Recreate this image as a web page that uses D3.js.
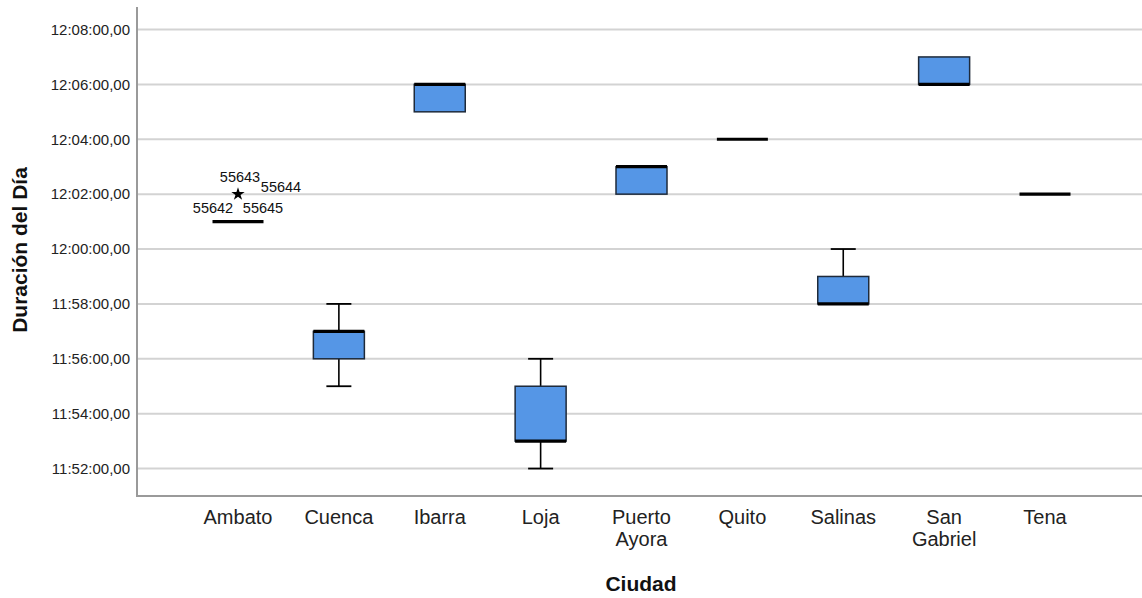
<!DOCTYPE html>
<html>
<head>
<meta charset="utf-8">
<script src="https://cdn.jsdelivr.net/npm/d3@7"></script>
<style>
  html, body { margin: 0; padding: 0; background: #fff; }
  svg { display: block; font-family: "Liberation Sans", Arial, sans-serif; }
</style>
</head>
<body>
<div id="box"></div>
<script>
// data (times as h:mm:ss)
const cities = ['Ambato', 'Cuenca', 'Ibarra', 'Loja', 'Puerto Ayora', 'Quito', 'Salinas', 'San Gabriel', 'Tena'];
const whiskerLow  = ['12:01:00', '11:55:00', '12:05:00', '11:52:00', '12:02:00', '12:04:00', '11:58:00', '12:06:00', '12:02:00'];
const q1          = ['12:01:00', '11:56:00', '12:05:00', '11:53:00', '12:02:00', '12:04:00', '11:58:00', '12:06:00', '12:02:00'];
const median      = ['12:01:00', '11:57:00', '12:06:00', '11:53:00', '12:03:00', '12:04:00', '11:58:00', '12:06:00', '12:02:00'];
const q3          = ['12:01:00', '11:57:00', '12:06:00', '11:55:00', '12:03:00', '12:04:00', '11:59:00', '12:07:00', '12:02:00'];
const whiskerHigh = ['12:01:00', '11:58:00', '12:06:00', '11:56:00', '12:03:00', '12:04:00', '12:00:00', '12:07:00', '12:02:00'];

// extreme outliers: city, value, case labels
const outlierCity = 'Ambato';
const outlierValue = '12:02:00';
const outlierIds = ['55643', '55644', '55642', '55645'];

const tickValues = ['11:52:00', '11:54:00', '11:56:00', '11:58:00', '12:00:00', '12:02:00', '12:04:00', '12:06:00', '12:08:00'];

// seconds since midnight
const toSec = s => {
  const p = s.split(':').map(Number);
  return p[0] * 3600 + p[1] * 60 + p[2];
};
const fmt = sec => {
  const h = Math.floor(sec / 3600), m = Math.floor((sec % 3600) / 60), s = sec % 60;
  return `${h}:${String(m).padStart(2, '0')}:${String(s).padStart(2, '0')},00`;
};

const width = 1142;
const height = 598;
const padLeft = 137;
const padTop = 7;
const plotBottom = 496;
const plotRight = 1142;

const svg = d3.select('#box').append('svg')
  .attr('width', width)
  .attr('height', height)
  .attr('viewBox', `0 0 ${width} ${height}`);

const noon = 12 * 3600;
const y = d3.scaleLinear()
  .domain([noon - 9.0 * 60, noon + 8.82 * 60])
  .range([plotBottom, padTop]);

const x = d3.scalePoint()
  .domain(cities)
  .range([238, 1045]);

const boxW = 51;
const capW = 25;

// gridlines
svg.append('g')
  .selectAll('line')
  .data(tickValues.map(toSec))
  .join('line')
  .attr('x1', padLeft)
  .attr('x2', plotRight)
  .attr('y1', d => y(d))
  .attr('y2', d => y(d))
  .style('stroke', '#d3d3d3')
  .style('stroke-width', 2);

// y axis
const yAxis = svg.append('g')
  .attr('transform', `translate(${padLeft},0)`)
  .call(d3.axisLeft(y).tickValues(tickValues.map(toSec)).tickFormat(fmt).tickSize(0).tickPadding(7));
yAxis.select('.domain').remove();
yAxis.selectAll('text')
  .style('font-size', '15px')
  .style('fill', '#222')
  .style('font-family', '"Liberation Sans", Arial, sans-serif');

// x axis labels
const xAxis = svg.append('g')
  .attr('transform', `translate(0,${plotBottom})`)
  .call(d3.axisBottom(x).tickSize(0).tickFormat(''));
xAxis.select('.domain').remove();

svg.append('g')
  .selectAll('text')
  .data(cities)
  .join('text')
  .attr('x', d => x(d))
  .attr('y', 524)
  .attr('text-anchor', 'middle')
  .style('font-size', '20px')
  .style('fill', '#222')
  .each(function (d) {
    const words = d.split(' ');
    d3.select(this).selectAll('tspan')
      .data(words)
      .join('tspan')
      .attr('x', x(d))
      .attr('dy', (w, i) => i === 0 ? 0 : 22)
      .text(w => w);
  });

// frame lines (left + bottom)
svg.append('line')
  .attr('x1', padLeft).attr('x2', padLeft)
  .attr('y1', padTop).attr('y2', plotBottom)
  .style('stroke', '#9a9a9a').style('stroke-width', 2);
svg.append('line')
  .attr('x1', padLeft - 1).attr('x2', plotRight)
  .attr('y1', plotBottom).attr('y2', plotBottom)
  .style('stroke', '#9a9a9a').style('stroke-width', 2);

// boxes
const boxes = cities.map((c, i) => ({
  city: c,
  lo: toSec(whiskerLow[i]),
  q1: toSec(q1[i]),
  med: toSec(median[i]),
  q3: toSec(q3[i]),
  hi: toSec(whiskerHigh[i])
}));

const g = svg.append('g');

// whiskers
g.selectAll('.whiskerUp')
  .data(boxes.filter(d => d.hi > d.q3))
  .join('line')
  .attr('x1', d => x(d.city)).attr('x2', d => x(d.city))
  .attr('y1', d => y(d.q3)).attr('y2', d => y(d.hi))
  .style('stroke', '#000').style('stroke-width', 1.6);
g.selectAll('.whiskerDown')
  .data(boxes.filter(d => d.lo < d.q1))
  .join('line')
  .attr('x1', d => x(d.city)).attr('x2', d => x(d.city))
  .attr('y1', d => y(d.q1)).attr('y2', d => y(d.lo))
  .style('stroke', '#000').style('stroke-width', 1.6);

// caps
g.selectAll('.capHi')
  .data(boxes.filter(d => d.hi > d.q3))
  .join('line')
  .attr('x1', d => x(d.city) - capW / 2).attr('x2', d => x(d.city) + capW / 2)
  .attr('y1', d => y(d.hi)).attr('y2', d => y(d.hi))
  .style('stroke', '#000').style('stroke-width', 1.8);
g.selectAll('.capLo')
  .data(boxes.filter(d => d.lo < d.q1))
  .join('line')
  .attr('x1', d => x(d.city) - capW / 2).attr('x2', d => x(d.city) + capW / 2)
  .attr('y1', d => y(d.lo)).attr('y2', d => y(d.lo))
  .style('stroke', '#000').style('stroke-width', 1.8);

// box rects
g.selectAll('.box')
  .data(boxes.filter(d => d.q3 > d.q1))
  .join('rect')
  .attr('x', d => x(d.city) - boxW / 2)
  .attr('y', d => y(d.q3))
  .attr('width', boxW)
  .attr('height', d => y(d.q1) - y(d.q3))
  .style('fill', '#5596e6')
  .style('stroke', '#1e2a3a')
  .style('stroke-width', 1.5);

// medians
g.selectAll('.median')
  .data(boxes)
  .join('line')
  .attr('x1', d => x(d.city) - boxW / 2).attr('x2', d => x(d.city) + boxW / 2)
  .attr('y1', d => y(d.med)).attr('y2', d => y(d.med))
  .style('stroke', '#000').style('stroke-width', 3.2);

// outlier star + labels
const ox = x(outlierCity);
const oy = y(toSec(outlierValue));
svg.append('path')
  .attr('d', d3.symbol().type(d3.symbolStar).size(55)())
  .attr('transform', `translate(${ox},${oy})`)
  .style('fill', '#000');

const labelOffsets = [[2, -12], [43, -2], [-25, 19], [25, 19]];
svg.append('g')
  .selectAll('text')
  .data(outlierIds)
  .join('text')
  .attr('x', (d, i) => ox + labelOffsets[i][0])
  .attr('y', (d, i) => oy + labelOffsets[i][1])
  .attr('text-anchor', 'middle')
  .style('font-size', '14.5px')
  .style('fill', '#111')
  .text(d => d);

// axis titles
svg.append('text')
  .attr('transform', `translate(27,${250}) rotate(-90)`)
  .attr('text-anchor', 'middle')
  .style('font-size', '21px')
  .style('font-weight', 'bold')
  .style('fill', '#111')
  .text('Duración del Día');

svg.append('text')
  .attr('x', 641)
  .attr('y', 591)
  .attr('text-anchor', 'middle')
  .style('font-size', '21px')
  .style('font-weight', 'bold')
  .style('fill', '#111')
  .text('Ciudad');
</script>
</body>
</html>
